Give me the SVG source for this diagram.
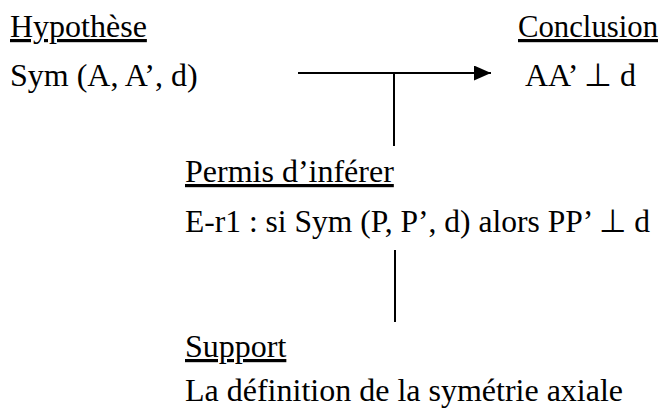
<svg xmlns="http://www.w3.org/2000/svg" width="669" height="410" viewBox="0 0 669 410">
<style>
text{font-family:"Liberation Serif","Times New Roman",serif;font-size:32px;fill:#000}
.u{text-decoration:underline}
.c{stroke:#000;stroke-width:2;fill:none}
</style>
<defs><marker id="ah" markerWidth="18" markerHeight="16" refX="17" refY="7.5" orient="auto" markerUnits="userSpaceOnUse"><path d="M0,0 L17,7.5 L0,15 Z" fill="#000"/></marker></defs>
<rect width="669" height="410" fill="#fff"/>
<g id="hypothese"><text class="u" x="10" y="37">Hypothèse</text><text x="10" y="86">Sym (A, A’, d)</text></g>
<g id="conclusion"><text class="u" x="518" y="37" textLength="140" lengthAdjust="spacingAndGlyphs">Conclusion</text><text x="525" y="86">AA’ ⊥ d</text></g>
<g id="permis"><text class="u" x="185" y="182">Permis d’inférer</text><text x="185" y="232" textLength="465" lengthAdjust="spacingAndGlyphs">E-r1 : si Sym (P, P’, d) alors PP’ ⊥ d</text></g>
<g id="support"><text class="u" x="185" y="357">Support</text><text x="185" y="401">La définition de la symétrie axiale</text></g>
<g id="connectors">
<line class="c" x1="298" y1="73" x2="491" y2="73" marker-end="url(#ah)"/>
<line class="c" x1="394" y1="73" x2="394" y2="146"/>
<line class="c" x1="395" y1="250" x2="395" y2="322"/>
</g>
</svg>
